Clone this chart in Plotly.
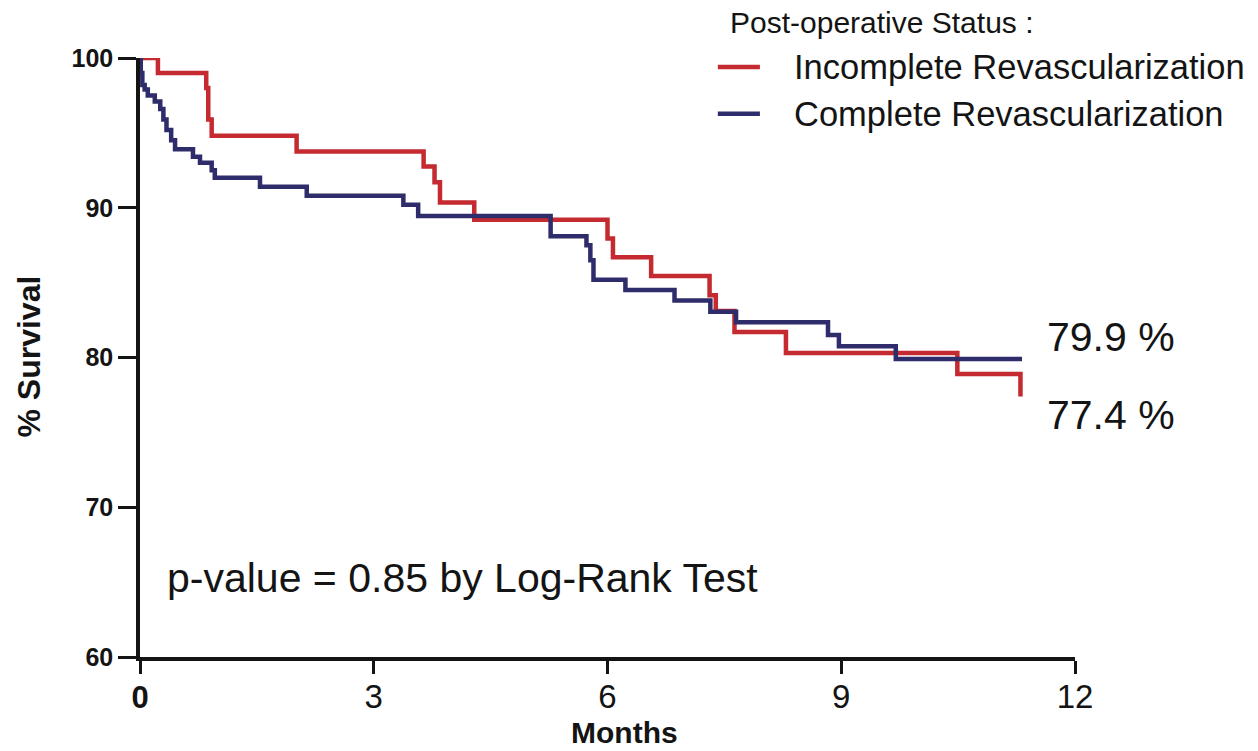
import plotly.graph_objects as go

# Kaplan-Meier survival estimates (months, % survival)
incomplete_t = [0, 0.23, 0.85, 0.876, 0.92, 2.01, 3.64, 3.78, 3.85, 4.29, 6.0, 6.07,
                6.56, 7.31, 7.39, 7.63, 8.29, 10.49, 11.3]
incomplete_s = [100, 99.0, 98.0, 95.9, 94.8, 93.75, 92.75, 91.7, 90.35, 89.2, 87.95, 86.7,
                85.45, 84.15, 83.1, 81.7, 80.3, 78.9, 77.4]

complete_t = [0, 0.01, 0.03, 0.06, 0.1, 0.19, 0.26, 0.3, 0.34, 0.4, 0.45, 0.68, 0.77,
              0.92, 0.96, 1.54, 2.14, 3.38, 3.57, 5.27, 5.73, 5.78, 5.82, 6.23, 6.86,
              7.32, 7.65, 8.83, 8.97, 9.7, 11.32]
complete_s = [100, 99.0, 98.2, 97.9, 97.5, 97.1, 96.6, 95.9, 95.2, 94.5, 93.9, 93.4, 93.0,
              92.5, 92.0, 91.4, 90.8, 90.2, 89.45, 88.1, 87.5, 86.5, 85.2, 84.5, 83.8,
              83.05, 82.35, 81.5, 80.75, 79.9, 79.9]

series_names = ["Incomplete Revascularization", "Complete Revascularization"]
legend_title = "Post-operative Status :"
x_ticks = [0, 3, 6, 9, 12]
x_tick_text = ["<b><span style='font-size:31px'>0</span></b>", "3", "6", "9", "12"]
y_ticks = [60, 70, 80, 90, 100]

RED = "#C42A2F"
NAVY = "#2E2C6B"
INK = "#141414"
FONT = "Arial, Liberation Sans, sans-serif"

fig = go.Figure()
fig.add_trace(go.Scatter(
    x=incomplete_t, y=incomplete_s, mode="lines", line_shape="hv",
    line=dict(color=RED, width=4.5), name=series_names[0]))
fig.add_trace(go.Scatter(
    x=complete_t, y=complete_s, mode="lines", line_shape="hv",
    line=dict(color=NAVY, width=4.5), name=series_names[1]))

# end-of-follow-up survival labels
fig.add_annotation(x=11.62, y=complete_s[-1], xref="x", yref="y",
                   text="%.1f %%" % complete_s[-1], showarrow=False,
                   xanchor="left", yanchor="middle", yshift=22,
                   font=dict(family=FONT, size=41, color=INK))
fig.add_annotation(x=11.62, y=incomplete_s[-1], xref="x", yref="y",
                   text="%.1f %%" % incomplete_s[-1], showarrow=False,
                   xanchor="left", yanchor="middle", yshift=-19,
                   font=dict(family=FONT, size=41, color=INK))
fig.add_annotation(x=0.32, y=65.3, xref="x", yref="y",
                   text="p-value = 0.85 by Log-Rank Test", showarrow=False,
                   xanchor="left", yanchor="middle",
                   font=dict(family=FONT, size=41, color=INK))

# axis titles
fig.add_annotation(x=0.5177, y=-0.157, xref="paper", yref="paper", text="<b>Months</b>",
                   showarrow=False, xanchor="center", yanchor="bottom",
                   font=dict(family=FONT, size=30, color=INK))
fig.add_annotation(x=-0.1185, y=0.502, xref="paper", yref="paper", text="<b>% Survival</b>",
                   showarrow=False, xanchor="center", yanchor="middle", textangle=-90,
                   font=dict(family=FONT, size=32, color=INK))

# legend block: title, colour swatches and series names
fig.add_annotation(x=0.6289, y=1.060, xref="paper", yref="paper", text=legend_title,
                   showarrow=False, xanchor="left", yanchor="middle",
                   font=dict(family=FONT, size=30, color=INK))
for name, color, ypos in [(series_names[0], RED, 0.985), (series_names[1], NAVY, 0.907)]:
    fig.add_shape(type="line", xref="paper", yref="paper",
                  x0=0.618, x1=0.663, y0=ypos, y1=ypos,
                  line=dict(color=color, width=4.5))
    fig.add_annotation(x=0.6973, y=ypos, xref="paper", yref="paper", text=name,
                       showarrow=False, xanchor="left", yanchor="middle",
                       font=dict(family=FONT, size=34.5, color=INK))

fig.update_layout(
    width=1258, height=751,
    margin=dict(l=140, r=183, t=58, b=94),
    paper_bgcolor="white", plot_bgcolor="white",
    font=dict(family=FONT, color=INK),
    showlegend=False,
    xaxis=dict(
        range=[0, 12], tickvals=x_ticks, ticktext=x_tick_text, automargin=False,
        showgrid=False, zeroline=False, showline=True, linecolor=INK, linewidth=3.5,
        ticks="outside", ticklen=13, tickwidth=3, tickcolor=INK,
        ticklabelstandoff=-5,
        tickfont=dict(family=FONT, size=33),
    ),
    yaxis=dict(
        range=[60, 100], tickvals=y_ticks, automargin=False,
        ticktext=["<b>%d</b>" % v for v in y_ticks],
        showgrid=False, zeroline=False, showline=True, linecolor=INK, linewidth=3.5,
        ticks="outside", ticklen=18, tickwidth=3, tickcolor=INK,
        tickfont=dict(family=FONT, size=25),
    ),
)

fig.write_html("out.html")
